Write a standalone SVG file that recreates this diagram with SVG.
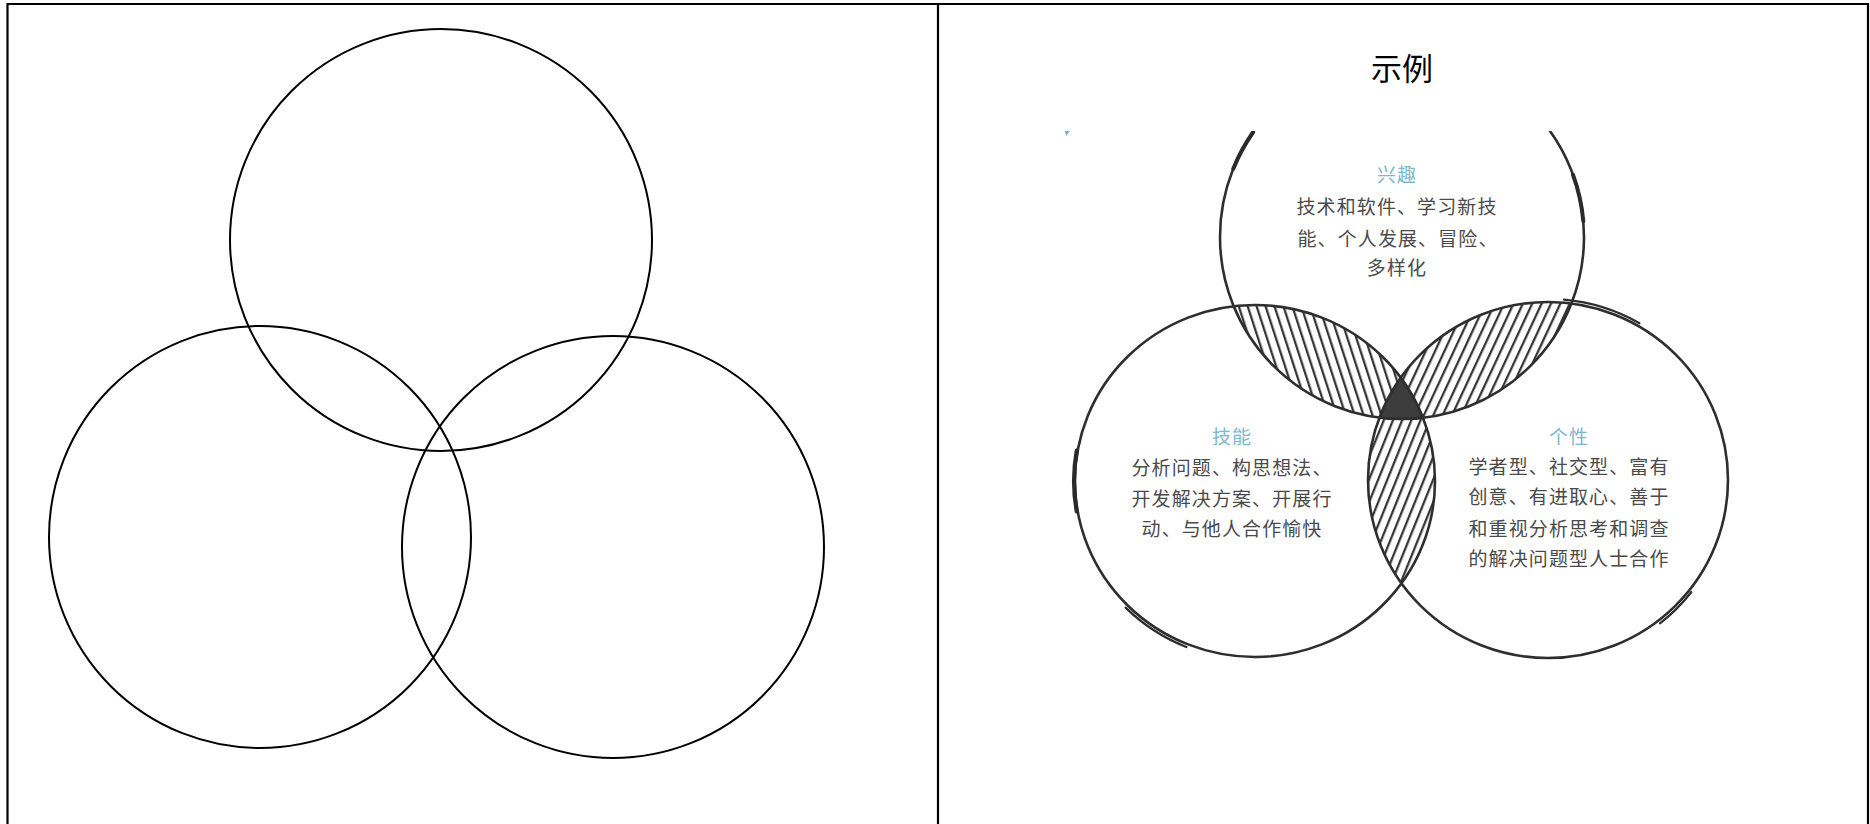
<svg xmlns="http://www.w3.org/2000/svg" width="1870" height="824" viewBox="0 0 1870 824">
  <style>
    .frame { stroke: #000; stroke-width: 2.2; fill: none; }
    .plain { stroke: #000; stroke-width: 2; fill: none; }
    .sketch { stroke: #2e2e2e; stroke-width: 2.6; fill: none; stroke-linecap: round; }
    .accent { stroke: #2e2e2e; stroke-width: 2.2; fill: none; stroke-linecap: round; }
    .thick { stroke: #2a2a2a; stroke-width: 4; fill: none; stroke-linecap: round; }
    .title { font-family: "Liberation Serif", "Noto Sans CJK SC", serif; font-size: 31px; fill: #000; text-anchor: middle; }
    .head { font-family: "Noto Sans CJK SC", sans-serif; font-size: 19px; fill: #7cb8cc; text-anchor: middle; letter-spacing: 1px; }
    .body { font-family: "Noto Sans CJK SC", sans-serif; font-size: 19px; fill: #4a4a4a; text-anchor: middle; letter-spacing: 1.1px; }
  </style>
  <defs>
    <pattern id="hatchTL" width="8.5" height="8.5" patternUnits="userSpaceOnUse" patternTransform="rotate(-18)">
      <line x1="4" y1="0" x2="4" y2="8.5" stroke="#2e2e2e" stroke-width="2.2"/>
    </pattern>
    <pattern id="hatchTR" width="8.5" height="8.5" patternUnits="userSpaceOnUse" patternTransform="rotate(25)">
      <line x1="4" y1="0" x2="4" y2="8.5" stroke="#2e2e2e" stroke-width="2.2"/>
    </pattern>
    <pattern id="hatchB" width="8.5" height="8.5" patternUnits="userSpaceOnUse" patternTransform="rotate(22)">
      <line x1="4" y1="0" x2="4" y2="8.5" stroke="#2e2e2e" stroke-width="2.2"/>
    </pattern>
    <clipPath id="cTop"><circle cx="1402" cy="237" r="182"/></clipPath>
    <clipPath id="cLeft"><ellipse cx="1255" cy="481" rx="180" ry="176"/></clipPath>
    <clipPath id="cRight"><ellipse cx="1548" cy="480" rx="180" ry="178"/></clipPath>
    <clipPath id="cCrop"><rect x="1000" y="131" width="800" height="700"/></clipPath>
  </defs>

  <g id="frame">
    <line class="frame" x1="7.5" y1="4" x2="1868" y2="4"/>
    <line class="frame" x1="7.5" y1="3" x2="7.5" y2="824"/>
    <line class="frame" x1="938" y1="3" x2="938" y2="824"/>
    <line class="frame" x1="1868" y1="3" x2="1868" y2="824"/>
  </g>

  <g id="blank-venn">
    <circle id="blank-top" class="plain" cx="441" cy="240" r="211"/>
    <circle id="blank-left" class="plain" cx="260" cy="537" r="211"/>
    <circle id="blank-right" class="plain" cx="613" cy="547" r="211"/>
  </g>

  <g id="title">
    <text class="title" x="1402" y="80">示例</text>
  </g>

  <g id="example-venn">
    <path d="M1065,131 L1070,131 L1066,136 Z" fill="#7aaed6"/>
    <g id="hatch-top-left" clip-path="url(#cTop)">
      <rect x="1150" y="280" width="300" height="160" fill="url(#hatchTL)" clip-path="url(#cLeft)"/>
    </g>
    <g id="hatch-top-right" clip-path="url(#cTop)">
      <rect x="1350" y="280" width="300" height="160" fill="url(#hatchTR)" clip-path="url(#cRight)"/>
    </g>
    <g id="hatch-bottom" clip-path="url(#cLeft)">
      <rect x="1350" y="360" width="100" height="240" fill="url(#hatchB)" clip-path="url(#cRight)"/>
    </g>
    <g id="center-dark" clip-path="url(#cTop)">
      <g clip-path="url(#cLeft)">
        <rect x="1350" y="360" width="100" height="80" fill="#3c3c3c" clip-path="url(#cRight)"/>
      </g>
    </g>

    <g id="circle-interest" clip-path="url(#cCrop)">
      <circle class="sketch" cx="1402" cy="237" r="182"/>
      <path class="thick" d="M1233.3,168.8 A182,182 0 0 1 1252.9,132.5"/>
      <path class="thick" d="M1573,174.8 A182,182 0 0 1 1583.3,221.1"/>
    </g>
    <g id="circle-skills">
      <ellipse class="sketch" cx="1255" cy="481" rx="180" ry="176"/>
      <path class="accent" d="M1186.4,647 A183,179 0 0 1 1125.6,607.6"/>
      <path class="thick" d="M1076.7,511.6 A181,176 0 0 1 1076.7,450.4"/>
    </g>
    <g id="circle-personality">
      <ellipse class="sketch" cx="1548" cy="480" rx="180" ry="178"/>
      <path class="accent" d="M1564,299.7 A183,181 0 0 1 1639.5,323.3"/>
      <path class="accent" d="M1691.4,592 A182,182 0 0 1 1660,623.4"/>
    </g>

    <g id="label-interest">
      <text class="head" x="1397" y="182">兴趣</text>
      <text class="body" x="1397" y="213.5">技术和软件、学习新技</text>
      <text class="body" x="1398" y="245.5">能、个人发展、冒险、</text>
      <text class="body" x="1397" y="275">多样化</text>
    </g>
    <g id="label-skills">
      <text class="head" x="1232" y="443.5">技能</text>
      <text class="body" x="1232" y="475">分析问题、构思想法、</text>
      <text class="body" x="1232" y="505.5">开发解决方案、开展行</text>
      <text class="body" x="1232" y="535.5">动、与他人合作愉快</text>
    </g>
    <g id="label-personality">
      <text class="head" x="1569" y="443.5">个性</text>
      <text class="body" x="1569" y="473.5">学者型、社交型、富有</text>
      <text class="body" x="1569" y="504">创意、有进取心、善于</text>
      <text class="body" x="1569" y="536">和重视分析思考和调查</text>
      <text class="body" x="1569" y="566">的解决问题型人士合作</text>
    </g>
  </g>
</svg>
